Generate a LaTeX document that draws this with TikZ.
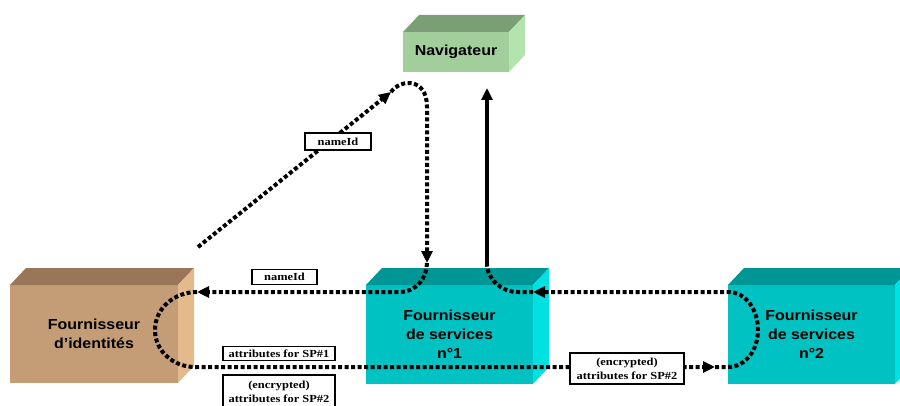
\documentclass[tikz,border=0pt]{standalone}
\usepackage{fontspec}
\usetikzlibrary{arrows.meta,calc}

\newfontfamily\blockfont{Liberation Sans}[FakeStretch=1.1]
\newfontfamily\tagfont{Liberation Serif}[FakeStretch=1.15]

% face colours of the three kinds of blocks
\definecolor{navFront}{RGB}{162,206,156}
\definecolor{navTop}{RGB}{124,158,118}
\definecolor{navSide}{RGB}{180,228,174}
\definecolor{idpFront}{RGB}{196,156,118}
\definecolor{idpTop}{RGB}{154,118,88}
\definecolor{idpSide}{RGB}{228,186,140}
\definecolor{spFront}{RGB}{0,194,194}
\definecolor{spTop}{RGB}{0,150,150}
\definecolor{spSide}{RGB}{0,226,226}

% top and right faces of a cuboid whose front face is node #1
\newcommand\cuboidfaces[3]{%
  \fill[#2] (#1.north west) -- ++(16,17) -- ($(#1.north east)+(16,17)$) -- (#1.north east) -- cycle;
  \fill[#3] (#1.north east) -- ++(16,17) -- ($(#1.south east)+(16,17)$) -- (#1.south east) -- cycle;
}

\tikzset{
  x=1pt, y=1pt,
  block/.style={inner sep=0pt, outer sep=0pt, align=center,
    font=\blockfont\bfseries\fontsize{14.5}{19}\selectfont},
  tag/.style={draw, line width=1.6pt, fill=white, inner sep=0pt, align=center,
    font=\tagfont\bfseries\fontsize{10.8}{14}\selectfont},
  flow/.style={line width=4pt, dash pattern=on 4pt off 2.5pt},
  tip/.style={-{Triangle[length=12pt,width=11pt]}},
}

\begin{document}
\begin{tikzpicture}
\path[use as bounding box] (0,0) rectangle (900,405);
\clip (0,0) rectangle (900,405);

% blocks
\node[block, fill=navFront, minimum width=106pt, minimum height=40pt] (nav) at (456,353) {Navigateur};
\cuboidfaces{nav}{navTop}{navSide}
\node[block, fill=idpFront, minimum width=168pt, minimum height=98pt] (idp) at (94,71) {Fournisseur\\d’identités};
\cuboidfaces{idp}{idpTop}{idpSide}
\node[block, fill=spFront, minimum width=167pt, minimum height=99pt] (sp1) at (449.5,70.5) {Fournisseur\\de services\\n°1};
\cuboidfaces{sp1}{spTop}{spSide}
\node[block, fill=spFront, minimum width=167pt, minimum height=99pt] (sp2) at (811.5,70.5) {Fournisseur\\de services\\n°2};
\cuboidfaces{sp2}{spTop}{spSide}

% way points of the message flow
\coordinate (dstart) at (198,158);
\coordinate (navin) at (391,313);
\coordinate (sp1in) at (427,142);
\coordinate (idpin) at (197,113);
\coordinate (sp2in) at (715,38);
\coordinate (sp1back) at (533,113);
\coordinate (sp1up) at (487,142);
\coordinate (navtip) at (487,317);

% message flow
\draw[flow,tip] (dstart) -- (navin);
\draw[flow,tip] (navin) .. controls (400,326) and (427,328) .. (427,298) -- (sp1in);
\draw[flow,tip] (sp1in) to[out=-90,in=0] (400,113) -- (idpin);
\draw[flow,tip] (idpin) to[out=180,in=90] (155,75) to[out=-90,in=180] (195,38) -- (sp2in);
\draw[flow,tip] (sp2in) -- (728,38) to[out=0,in=-90] (758,75) to[out=90,in=0] (728,113) -- (sp1back);
\draw[flow] (sp1back) -- (518,113) to[out=180,in=-90] (sp1up);
\draw[line width=4pt,tip] (sp1up) -- (navtip);

% message labels
\node[tag, minimum width=66pt, minimum height=17pt] (t1) at (338,263.5) {nameId};
\node[tag, minimum width=65pt, minimum height=15pt] (t2) at (284.5,128) {nameId};
\node[tag, minimum width=112pt, minimum height=14pt] (t3) at (279,51.5) {attributes for SP\#1};
\node[tag, minimum width=112pt, minimum height=34pt] (t4) at (279,13) {(encrypted)\\attributes for SP\#2};
\node[tag, minimum width=114pt, minimum height=31pt] (t5) at (627,36.5) {(encrypted)\\attributes for SP\#2};
\end{tikzpicture}
\end{document}
